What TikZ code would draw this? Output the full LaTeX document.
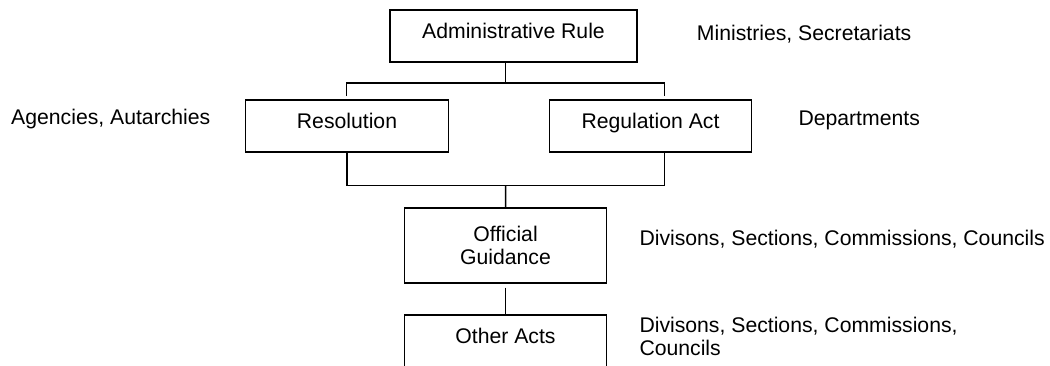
\documentclass[tikz,border=0pt]{standalone}
\usepackage{fontspec}
\setmainfont{Liberation Sans}
\begin{document}
\begin{tikzpicture}[x=1pt,y=1pt,
  every node/.style={font=\fontsize{21.2pt}{23.4pt}\selectfont},
  box/.style={draw,line width=1.5pt,rectangle,inner sep=0pt,align=center},
  onebox/.style={box,text height=0.73em,text depth=0.21em},
  lbl/.style={anchor=base west,inner sep=0pt,align=left},
  conn/.style={line width=1.5pt}]
\useasboundingbox (0,0) rectangle (1050,-365);
% boxes
\node[onebox,minimum width=247pt,minimum height=52pt] (admin) at (513.5,-36) {Administrative Rule};
\node[onebox,minimum width=203pt,minimum height=52pt] (res) at (347,-126) {Resolution};
\node[onebox,minimum width=202pt,minimum height=52pt] (reg) at (650.5,-126) {Regulation Act};
\node[box,minimum width=202pt,minimum height=75pt] (off) at (505.5,-245.5) {Official\\Guidance};
\node[onebox,minimum width=202pt,minimum height=52pt] (oth) at (505.5,-341) {Other Acts};
% side labels
\node[lbl] (l1) at (696.7,-40.7) {Ministries, Secretariats};
\node[lbl] (l2) at (11,-124.3) {Agencies, Autarchies};
\node[lbl] (l3) at (798.3,-125) {Departments};
\node[lbl] (l4) at (639.3,-245.7) {Divisons, Sections, Commissions, Councils};
\node[lbl,anchor=north west] (l5) at (639.3,-316.8) {Divisons, Sections, Commissions,\\Councils};
% connector coordinates
\coordinate (jt) at (505.7,-83);
\coordinate (lt) at (346.7,-96);
\coordinate (rt) at (664.3,-96);
\coordinate (rm) at (664.3,-83);
\coordinate (jb) at (505.7,-185.7);
\coordinate (rb) at (664.3,-185.7);
\coordinate (os) at (505.5,-287.7);
% connectors
\draw[conn] (admin.south -| jt) -- (jt);
\draw[conn] (lt) |- (rm) -- (rt);
\draw[conn] (res.south) |- (rb) -- (reg.south -| rb);
\draw[conn] (jb) -- (off.north);
\draw[conn] (os) -- (oth.north);
\end{tikzpicture}
\end{document}
